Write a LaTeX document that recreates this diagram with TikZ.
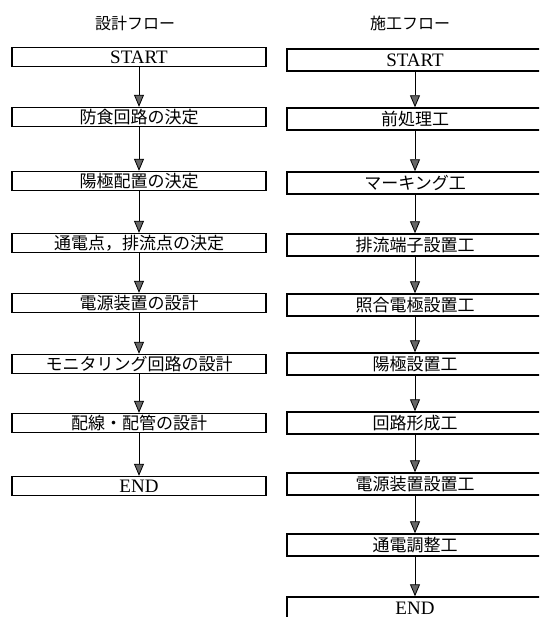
\documentclass[tikz,border=0pt]{standalone}
\usepackage{fontspec}
\setmainfont{Liberation Serif}
\newfontfamily\jp{Noto Sans CJK JP}
\usetikzlibrary{arrows.meta}
\tikzset{
  boxL/.style={draw, line width=1.4pt, minimum width=254pt, minimum height=19pt, inner sep=0pt, font=\jp\fontsize{17}{17}\selectfont},
  boxR/.style={draw, line width=1.4pt, minimum width=256pt, minimum height=22pt, inner sep=0pt, font=\jp\fontsize{17}{17}\selectfont},
  latin/.style={font=\fontsize{19}{19}\selectfont},
  head/.style={font=\jp\fontsize{16}{16}\selectfont},
  flow/.style={line width=0.8pt, -{Triangle[width=10pt,length=12pt,fill=black!60]}}
}
\begin{document}
\begin{tikzpicture}[x=1pt,y=-1pt]
\useasboundingbox (0,0) rectangle (539,617);
\clip (0,0) rectangle (539,617);
% headers
\node[head] (hL) at (135,23) {設計フロー};
\node[head] (hR) at (410,23) {施工フロー};
% left column
\node[boxL, latin] (L1) at (139,57) {START};
\node[boxL] (L2) at (139,117) {防食回路の決定};
\node[boxL] (L3) at (139,181) {陽極配置の決定};
\node[boxL] (L4) at (139,243) {通電点，排流点の決定};
\node[boxL] (L5) at (139,303) {電源装置の設計};
\node[boxL] (L6) at (139,364) {モニタリング回路の設計};
\node[boxL] (L7) at (139,423) {配線・配管の設計};
\node[boxL, latin] (L8) at (139,486) {END};
\foreach \a/\b in {L1/L2,L2/L3,L3/L4,L4/L5,L5/L6,L6/L7,L7/L8}
  \draw[flow] (\a.south) -- (\b.north);
% right column
\node[boxR, latin] (R1) at (415,60) {START};
\node[boxR] (R2) at (415,119) {前処理工};
\node[boxR] (R3) at (415,183) {マーキング工};
\node[boxR] (R4) at (415,245) {排流端子設置工};
\node[boxR] (R5) at (415,305) {照合電極設置工};
\node[boxR] (R6) at (415,364) {陽極設置工};
\node[boxR] (R7) at (415,423) {回路形成工};
\node[boxR] (R8) at (415,484) {電源装置設置工};
\node[boxR] (R9) at (415,545) {通電調整工};
\node[boxR, latin] (R10) at (415,608) {END};
\foreach \a/\b in {R1/R2,R2/R3,R3/R4,R4/R5,R5/R6,R6/R7,R7/R8,R8/R9,R9/R10}
  \draw[flow] (\a.south) -- (\b.north);
\end{tikzpicture}
\end{document}
